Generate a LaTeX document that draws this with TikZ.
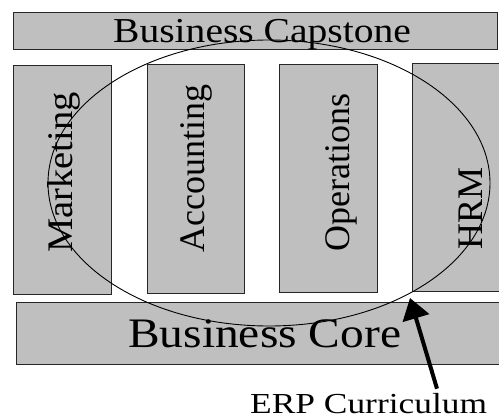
\documentclass[tikz,border=0pt]{standalone}
\usepackage{fontspec}
\setmainfont{Liberation Serif}
\usetikzlibrary{arrows.meta}

\begin{document}
\begin{tikzpicture}[x=1pt, y=-1pt,
        every node/.style = {inner sep=0pt},
        course/.style = {shape=rectangle, draw=black!85, line width=0.8pt,
        fill=black!25},
        vlabel/.style = {rotate=90, anchor=base west,
        font=\fontsize{36}{40}\selectfont},
        bigarrow/.style = {line width=4pt,
        -{Triangle[length=21pt, width=27pt]}}]
        \useasboundingbox (0,0) rectangle (499,420);
        \clip (0,0) rectangle (499,420);
        % bars and subject areas
        \node[course, minimum width=484pt, minimum height=37pt] (capstone) at (255,30.5) {};
        \node[course, minimum width=98pt, minimum height=229pt] (marketing) at (62,179.5) {};
        \node[course, minimum width=97pt, minimum height=229pt] (accounting) at (195.5,178.5) {};
        \node[course, minimum width=98pt, minimum height=228pt] (operations) at (328,178) {};
        \node[course, minimum width=98pt, minimum height=228pt] (hrm) at (461,177) {};
        \node[course, minimum width=489pt, minimum height=62pt] (core) at (260.5,333) {};
        % texts
        \node[anchor=base west, font=\fontsize{35}{40}\selectfont] (capstonetext)
            at (113,43) {\scalebox{1.13}[1]{Business Capstone}};
        \node[anchor=base west, font=\fontsize{42}{48}\selectfont] (coretext)
            at (128,347) {\scalebox{1.13}[1]{Business Core}};
        \node[vlabel] (marketingtext) at (72,253) {\scalebox{1.07}[1]{Marketing}};
        \node[vlabel] (accountingtext) at (204,253) {Accounting};
        \node[vlabel] (operationstext) at (349,252) {Operations};
        \node[vlabel] (hrmtext) at (482,250) {HRM};
        % the curriculum ring
        \draw[line width=0.9pt] (269,183) ellipse [x radius=221pt, y radius=143pt];
        \node[anchor=base west, font=\fontsize{29}{34}\selectfont] (erp)
            at (250,413) {\scalebox{1.22}[1]{ERP Curriculum}};
        \coordinate (tip) at (410,298);
        \draw[bigarrow] ([xshift=187pt, yshift=4pt]erp.north west) -- (tip);
\end{tikzpicture}
\end{document}
